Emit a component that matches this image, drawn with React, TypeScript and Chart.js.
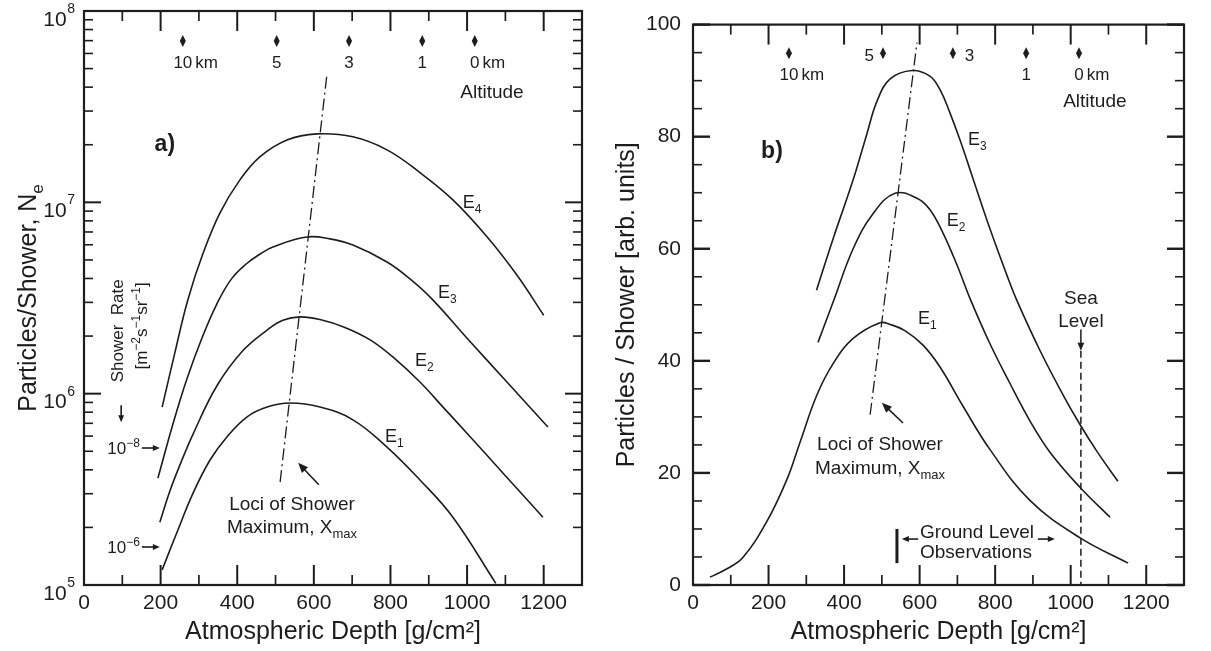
import React, { useEffect, useRef } from 'react';
import { Chart, registerables } from 'chart.js';

Chart.register(...registerables);

const FONT = '"Liberation Sans", Arial, Helvetica, sans-serif';
const INK = '#1d1d1d';

// ---------- Panel a): shower size (log) vs atmospheric depth ----------
const depthA1 = [204, 242, 285, 329, 373, 425, 478, 538, 616, 702, 791, 877, 963, 1075];
const sizeA1 = [1.2e5, 1.87e5, 3.03e5, 4.5e5, 5.94e5, 7.55e5, 8.51e5, 8.93e5, 8.51e5, 7.3e5, 5.26e5, 3.54e5, 2.26e5, 1.02e5];
const depthA2 = [198, 224, 250, 285, 347, 415, 478, 519, 564, 616, 681, 747, 812, 877, 942, 1008, 1104, 1198];
const sizeA2 = [2.13e5, 3.09e5, 4.22e5, 6.17e5, 1.1e6, 1.68e6, 2.15e6, 2.42e6, 2.52e6, 2.44e6, 2.22e6, 1.91e6, 1.52e6, 1.15e6, 8.3e5, 5.96e5, 3.65e5, 2.26e5];
const depthA3 = [193, 232, 269, 310, 347, 385, 425, 460, 493, 582, 642, 702, 791, 851, 908, 1000, 1104, 1211];
const sizeA3 = [3.62e5, 6.92e5, 1.2e6, 2.0e6, 2.95e6, 3.98e6, 4.79e6, 5.37e6, 5.85e6, 6.59e6, 6.44e6, 5.98e6, 4.88e6, 3.98e6, 3.13e6, 1.95e6, 1.15e6, 6.7e5];
const depthA4 = [204, 237, 271, 311, 355, 407, 459, 530, 608, 702, 791, 877, 963, 1052, 1130, 1200];
const sizeA4 = [8.51e5, 1.63e6, 3.09e6, 5.43e6, 8.81e6, 1.31e7, 1.73e7, 2.12e7, 2.28e7, 2.2e7, 1.88e7, 1.43e7, 1.03e7, 6.61e6, 4.17e6, 2.57e6];
const xmaxDepthA = [512, 634];
const xmaxSizeA = [3.45e5, 4.63e7];

// ---------- Panel b): particles (linear, arb. units) vs depth ----------
const depthB1 = [45, 90, 132, 196, 249, 283, 328, 371, 424, 495, 522, 561, 609, 654, 715, 786, 892, 1025, 1152];
const sizeB1 = [1.4, 2.9, 4.9, 11.4, 18.9, 25.4, 33.9, 39.5, 44.0, 46.8, 46.5, 45.4, 42.8, 38.9, 31.9, 24.2, 15.1, 8.4, 3.9];
const depthB2 = [331, 371, 424, 477, 535, 593, 627, 662, 699, 733, 786, 839, 892, 945, 1025, 1104];
const sizeB2 = [43.3, 50.5, 60.0, 66.3, 69.9, 69.0, 67.0, 62.8, 57.1, 51.2, 43.1, 36.0, 29.3, 23.7, 17.4, 12.1];
const depthB3 = [327, 371, 424, 460, 487, 522, 580, 627, 654, 680, 707, 741, 786, 831, 858, 919, 980, 1025, 1070, 1125];
const sizeB3 = [52.6, 61.8, 72.3, 80.4, 86.3, 90.3, 91.8, 90.8, 88.4, 84.3, 79.4, 72.6, 63.6, 55.3, 50.7, 41.8, 33.9, 28.6, 23.8, 18.5];
const xmaxDepthB = [469, 593];
const xmaxSizeB = [30.4, 96.8];
const seaLevelDepth = 1027;

// ---------- axes / markers ----------
const depthTicks = [0, 200, 400, 600, 800, 1000, 1200];
const depthMinorTicks = [100, 300, 500, 700, 900, 1100, 1300];
const logTicks = [1e5, 1e6, 1e7, 1e8];
const logTickExp = ['5', '6', '7', '8'];
const logMinorMult = [2, 3, 4, 5, 6, 7, 8, 9];
const linTicks = [0, 20, 40, 60, 80, 100];
const linMinorTicks = [5, 10, 15, 25, 30, 35, 45, 50, 55, 65, 70, 75, 85, 90, 95];
const altitudeKm = ['10', '5', '3', '1', '0'];
const altitudeDepthA = [258, 503, 692, 883, 1020];
const altitudeDepthB = [254, 503, 688, 882, 1022];

type Seg = { t: string; k?: 'sup' | 'sub' };

function rich(ctx: CanvasRenderingContext2D, segs: Seg[], x: number, y: number, size: number, align: 'left' | 'center' | 'right', small?: number, weight = 'normal') {
  const sm = small || Math.round(size * 0.68);
  const widths = segs.map((s) => {
    ctx.font = `${weight} ${s.k ? sm : size}px ${FONT}`;
    return ctx.measureText(s.t).width;
  });
  const total = widths.reduce((p, c) => p + c, 0);
  let cx = align === 'left' ? x : align === 'center' ? x - total / 2 : x - total;
  ctx.textAlign = 'left';
  ctx.textBaseline = 'alphabetic';
  segs.forEach((s, i) => {
    ctx.font = `${weight} ${s.k ? sm : size}px ${FONT}`;
    const dy = s.k === 'sup' ? -size * 0.4 : s.k === 'sub' ? size * 0.28 : 0;
    ctx.fillText(s.t, cx, y + dy);
    cx += widths[i];
  });
  return total;
}

function line(ctx: CanvasRenderingContext2D, x1: number, y1: number, x2: number, y2: number) {
  ctx.beginPath();
  ctx.moveTo(x1, y1);
  ctx.lineTo(x2, y2);
  ctx.stroke();
}

function arrow(ctx: CanvasRenderingContext2D, x1: number, y1: number, x2: number, y2: number, head = 8, lw = 1.5) {
  const ang = Math.atan2(y2 - y1, x2 - x1);
  const c = Math.cos(ang), s = Math.sin(ang);
  ctx.lineWidth = lw;
  line(ctx, x1, y1, x2 - c * head * 0.7, y2 - s * head * 0.7);
  const w = head * 0.42;
  ctx.beginPath();
  ctx.moveTo(x2, y2);
  ctx.lineTo(x2 - c * head + s * w, y2 - s * head - c * w);
  ctx.lineTo(x2 - c * head - s * w, y2 - s * head + c * w);
  ctx.closePath();
  ctx.fill();
}

function diamond(ctx: CanvasRenderingContext2D, cx: number, cy: number) {
  ctx.beginPath();
  ctx.moveTo(cx, cy - 6);
  ctx.lineTo(cx + 3, cy);
  ctx.lineTo(cx, cy + 6);
  ctx.lineTo(cx - 3, cy);
  ctx.closePath();
  ctx.fill();
}

function frameAndDepthTicks(ctx: CanvasRenderingContext2D, a: any, X: (v: number) => number) {
  ctx.strokeStyle = INK;
  ctx.fillStyle = INK;
  ctx.lineWidth = 2.2;
  ctx.strokeRect(a.left, a.top, a.right - a.left, a.bottom - a.top);
  depthTicks.forEach((v) => {
    const px = X(v);
    ctx.lineWidth = 2;
    line(ctx, px, a.bottom, px, a.bottom - 20);
    line(ctx, px, a.top, px, a.top + 20);
  });
  depthMinorTicks.forEach((v) => {
    const px = X(v);
    ctx.lineWidth = 1.7;
    line(ctx, px, a.bottom, px, a.bottom - 10);
    line(ctx, px, a.top, px, a.top + 10);
  });
}

function eLabel(ctx: CanvasRenderingContext2D, n: string, x: number, y: number) {
  rich(ctx, [{ t: 'E' }, { t: n, k: 'sub' }], x, y, 18, 'left', 12);
}

function xmaxText(ctx: CanvasRenderingContext2D, x: number, y1: number, y2: number) {
  rich(ctx, [{ t: 'Loci of Shower' }], x, y1, 19, 'center');
  rich(ctx, [{ t: 'Maximum, X' }, { t: 'max', k: 'sub' }], x, y2, 19, 'center', 13);
}

function altitudeRow(ctx: CanvasRenderingContext2D, depths: number[], X: (v: number) => number, yD: number, yL: number, yS: number, sideForMid: boolean) {
  depths.forEach((d, i) => {
    const px = X(d);
    diamond(ctx, px, yD);
    const lab = altitudeKm[i];
    ctx.font = `17px ${FONT}`;
    if (sideForMid && lab === '5') {
      rich(ctx, [{ t: lab }], px - 9, yS, 17, 'right');
    } else if (sideForMid && lab === '3') {
      rich(ctx, [{ t: lab }], px + 12, yS, 17, 'left');
    } else {
      const w = ctx.measureText(lab).width;
      rich(ctx, [{ t: lab }], px, yL, 17, 'center');
      if (i === 0 || i === depths.length - 1) rich(ctx, [{ t: 'km' }], px + w / 2 + 3, yL, 17, 'left');
    }
  });
}

const panelAPlugin = {
  id: 'panelAOverlay',
  afterDraw(chart: any) {
    const { ctx, chartArea: a } = chart;
    const X = (v: number) => chart.scales.x.getPixelForValue(v);
    const Y = (v: number) => chart.scales.y.getPixelForValue(v);
    ctx.save();
    frameAndDepthTicks(ctx, a, X);
    logTicks.forEach((v, i) => {
      const py = Y(v);
      ctx.lineWidth = 2;
      line(ctx, a.left, py, a.left + 17, py);
      line(ctx, a.right, py, a.right - 17, py);
      ctx.font = `14px ${FONT}`;
      const supW = ctx.measureText(logTickExp[i]).width;
      rich(ctx, [{ t: '10' }], a.left - 9 - supW - 0.5, py + 14.5, 21, 'right');
      rich(ctx, [{ t: logTickExp[i] }], a.left - 9, py + 2, 14, 'right');
      if (i < logTicks.length - 1) {
        logMinorMult.forEach((m) => {
          const pm = Y(v * m);
          ctx.lineWidth = 1.6;
          line(ctx, a.left, pm, a.left + 9, pm);
          line(ctx, a.right, pm, a.right - 9, pm);
        });
      }
    });
    ctx.save();
    ctx.translate(27, (a.top + a.bottom) / 2);
    ctx.rotate(-Math.PI / 2);
    rich(ctx, [{ t: 'Particles/Shower, N' }, { t: 'e', k: 'sub' }], 0, 9, 25, 'center', 17);
    ctx.restore();
    altitudeRow(ctx, altitudeDepthA, X, Y(6.98e7), Y(5.42e7) + 6, 0, false);
    rich(ctx, [{ t: 'Altitude' }], X(1065), Y(3.82e7) + 7, 19, 'center');
    rich(ctx, [{ t: 'a)' }], X(211), Y(2.05e7) + 8, 23, 'center', 15, 'bold');
    eLabel(ctx, '4', X(989), Y(9.35e6));
    eLabel(ctx, '3', X(924), Y(3.16e6));
    eLabel(ctx, '2', X(864), Y(1.4e6));
    eLabel(ctx, '1', X(786), Y(5.6e5));
    ctx.save();
    ctx.translate(X(86), Y(2.13e6));
    ctx.rotate(-Math.PI / 2);
    rich(ctx, [{ t: 'Shower  Rate' }], 0, 6, 17, 'center');
    ctx.restore();
    ctx.save();
    ctx.translate(X(149), Y(2.26e6));
    ctx.rotate(-Math.PI / 2);
    rich(ctx, [{ t: '[m' }, { t: '\u22122', k: 'sup' }, { t: 's' }, { t: '\u22121', k: 'sup' }, { t: 'sr' }, { t: '\u22121', k: 'sup' }, { t: ']' }], 0, 6, 17, 'center', 12);
    ctx.restore();
    arrow(ctx, X(97), Y(8.7e5), X(97), Y(7.1e5), 7, 1.6);
    rich(ctx, [{ t: '10' }, { t: '\u22128', k: 'sup' }], X(146), Y(5.2e5) + 6, 17, 'right', 12);
    arrow(ctx, X(151), Y(5.2e5), X(198), Y(5.2e5), 7, 1.6);
    rich(ctx, [{ t: '10' }, { t: '\u22126', k: 'sup' }], X(146), Y(1.58e5) + 6, 17, 'right', 12);
    arrow(ctx, X(151), Y(1.58e5), X(198), Y(1.58e5), 7, 1.6);
    xmaxText(ctx, X(543), Y(2.68e5) + 7, Y(2.03e5) + 7);
    arrow(ctx, X(613), Y(3.34e5), X(559), Y(4.35e5), 10, 1.6);
    ctx.restore();
  },
};

const panelBPlugin = {
  id: 'panelBOverlay',
  afterDraw(chart: any) {
    const { ctx, chartArea: a } = chart;
    const X = (v: number) => chart.scales.x.getPixelForValue(v);
    const Y = (v: number) => chart.scales.y.getPixelForValue(v);
    ctx.save();
    frameAndDepthTicks(ctx, a, X);
    linTicks.forEach((v) => {
      const py = Y(v);
      ctx.lineWidth = 2.4;
      line(ctx, a.left, py, a.left + 17, py);
      line(ctx, a.right, py, a.right - 17, py);
    });
    linMinorTicks.forEach((v) => {
      const py = Y(v);
      ctx.lineWidth = 1.6;
      line(ctx, a.left, py, a.left + 9, py);
      line(ctx, a.right, py, a.right - 9, py);
    });
    altitudeRow(ctx, altitudeDepthB, X, Y(94.9), Y(91.2) + 6, Y(94.6) + 6, true);
    rich(ctx, [{ t: 'Altitude' }], X(1064), Y(86.5) + 7, 19, 'center');
    rich(ctx, [{ t: 'b)' }], X(209), Y(77.7) + 8, 23, 'center', 15, 'bold');
    eLabel(ctx, '3', X(728), Y(78.6));
    eLabel(ctx, '2', X(672), Y(64.0));
    eLabel(ctx, '1', X(596), Y(46.5));
    rich(ctx, [{ t: 'Sea' }], X(seaLevelDepth), Y(51.4) + 7, 19, 'center');
    rich(ctx, [{ t: 'Level' }], X(seaLevelDepth), Y(47.2) + 7, 19, 'center');
    arrow(ctx, X(seaLevelDepth), Y(45.6), X(seaLevelDepth), Y(41.8), 8, 1.5);
    ctx.save();
    ctx.setLineDash([7, 4]);
    ctx.lineWidth = 1.5;
    line(ctx, X(seaLevelDepth), Y(41.8), X(seaLevelDepth), Y(0));
    ctx.restore();
    xmaxText(ctx, X(495), Y(25.3) + 7, Y(21.1) + 7);
    arrow(ctx, X(556), Y(28.9), X(500), Y(32.5), 10, 1.6);
    ctx.lineWidth = 3;
    line(ctx, X(540), Y(3.9), X(540), Y(10.0));
    rich(ctx, [{ t: 'Ground Level' }], X(601), Y(9.6) + 7, 19, 'left');
    rich(ctx, [{ t: 'Observations' }], X(601), Y(6.0) + 7, 19, 'left');
    arrow(ctx, X(596), Y(8.2), X(553), Y(8.2), 7, 1.6);
    arrow(ctx, X(913), Y(8.2), X(958), Y(8.2), 7, 1.6);
    ctx.restore();
  },
};

const zip = (xs: number[], ys: number[]) => xs.map((x, i) => ({ x, y: ys[i] }));

function curve(label: string, xs: number[], ys: number[]) {
  return {
    label,
    data: zip(xs, ys),
    borderColor: INK,
    borderWidth: 1.6,
    pointRadius: 0,
    fill: false,
    tension: 0.4,
  };
}

function dashDot(label: string, xs: number[], ys: number[]) {
  return {
    label,
    data: zip(xs, ys),
    borderColor: INK,
    borderWidth: 1.3,
    borderDash: [12, 4, 2, 4],
    pointRadius: 0,
    fill: false,
    tension: 0,
  };
}

function xScale(height: number) {
  return {
    type: 'linear' as const,
    min: 0,
    max: 1300,
    afterBuildTicks: (s: any) => {
      s.ticks = depthTicks.map((v) => ({ value: v }));
    },
    afterFit: (s: any) => {
      s.height = height;
    },
    grid: { display: false, drawTicks: false },
    border: { display: false },
    ticks: {
      font: { size: 21, family: FONT },
      color: INK,
      padding: 6,
      maxRotation: 0,
      autoSkip: false,
      callback: (v: any) => String(v),
    },
    title: {
      display: true,
      text: 'Atmospheric Depth [g/cm\u00B2]',
      font: { size: 25, family: FONT },
      color: INK,
      padding: { top: 0, bottom: 4 },
    },
  };
}

function buildA(): any {
  return {
    type: 'line',
    data: {
      datasets: [
        curve('E1', depthA1, sizeA1),
        curve('E2', depthA2, sizeA2),
        curve('E3', depthA3, sizeA3),
        curve('E4', depthA4, sizeA4),
        dashDot('Xmax', xmaxDepthA, xmaxSizeA),
      ],
    },
    options: {
      responsive: false,
      animation: false,
      devicePixelRatio: 1,
      events: [],
      layout: { padding: { top: 11, right: 18, left: 0, bottom: 0 } },
      plugins: { legend: { display: false }, tooltip: { enabled: false } },
      scales: {
        x: xScale(66),
        y: {
          type: 'logarithmic',
          min: 1e5,
          max: 1e8,
          afterBuildTicks: (s: any) => {
            s.ticks = logTicks.map((v) => ({ value: v }));
          },
          afterFit: (s: any) => {
            s.width = 84;
          },
          grid: { display: false, drawTicks: false },
          border: { display: false },
          ticks: { display: false },
        },
      },
    },
    plugins: [panelAPlugin],
  };
}

function buildB(): any {
  return {
    type: 'line',
    data: {
      datasets: [
        curve('E1', depthB1, sizeB1),
        curve('E2', depthB2, sizeB2),
        curve('E3', depthB3, sizeB3),
        dashDot('Xmax', xmaxDepthB, xmaxSizeB),
      ],
    },
    options: {
      responsive: false,
      animation: false,
      devicePixelRatio: 1,
      events: [],
      layout: { padding: { top: 15, right: 27, left: 0, bottom: 0 } },
      plugins: { legend: { display: false }, tooltip: { enabled: false } },
      scales: {
        x: xScale(66),
        y: {
          type: 'linear',
          min: 0,
          max: 100,
          afterBuildTicks: (s: any) => {
            s.ticks = linTicks.map((v) => ({ value: v }));
          },
          afterFit: (s: any) => {
            s.width = 93;
          },
          grid: { display: false, drawTicks: false },
          border: { display: false },
          ticks: { font: { size: 21, family: FONT }, color: INK, padding: 12 },
          title: {
            display: true,
            text: 'Particles / Shower [arb. units]',
            font: { size: 25, family: FONT },
            color: INK,
            padding: { top: 12, bottom: 0 },
          },
        },
      },
    },
    plugins: [panelBPlugin],
  };
}

function Panel({ left, width, build }: { left: number; width: number; build: () => any }) {
  const ref = useRef<HTMLCanvasElement>(null);
  useEffect(() => {
    const chart = new Chart(ref.current as HTMLCanvasElement, build());
    return () => chart.destroy();
  }, []);
  return (
    <canvas
      ref={ref}
      width={width}
      height={651}
      style={{ position: 'absolute', left, top: 0, width, height: 651 }}
    />
  );
}

export default function App() {
  return (
    <div style={{ position: 'absolute', left: 0, top: 0, width: 1211, height: 651, background: '#fff', overflow: 'hidden' }}>
      <Panel left={0} width={600} build={buildA} />
      <Panel left={600} width={611} build={buildB} />
    </div>
  );
}
